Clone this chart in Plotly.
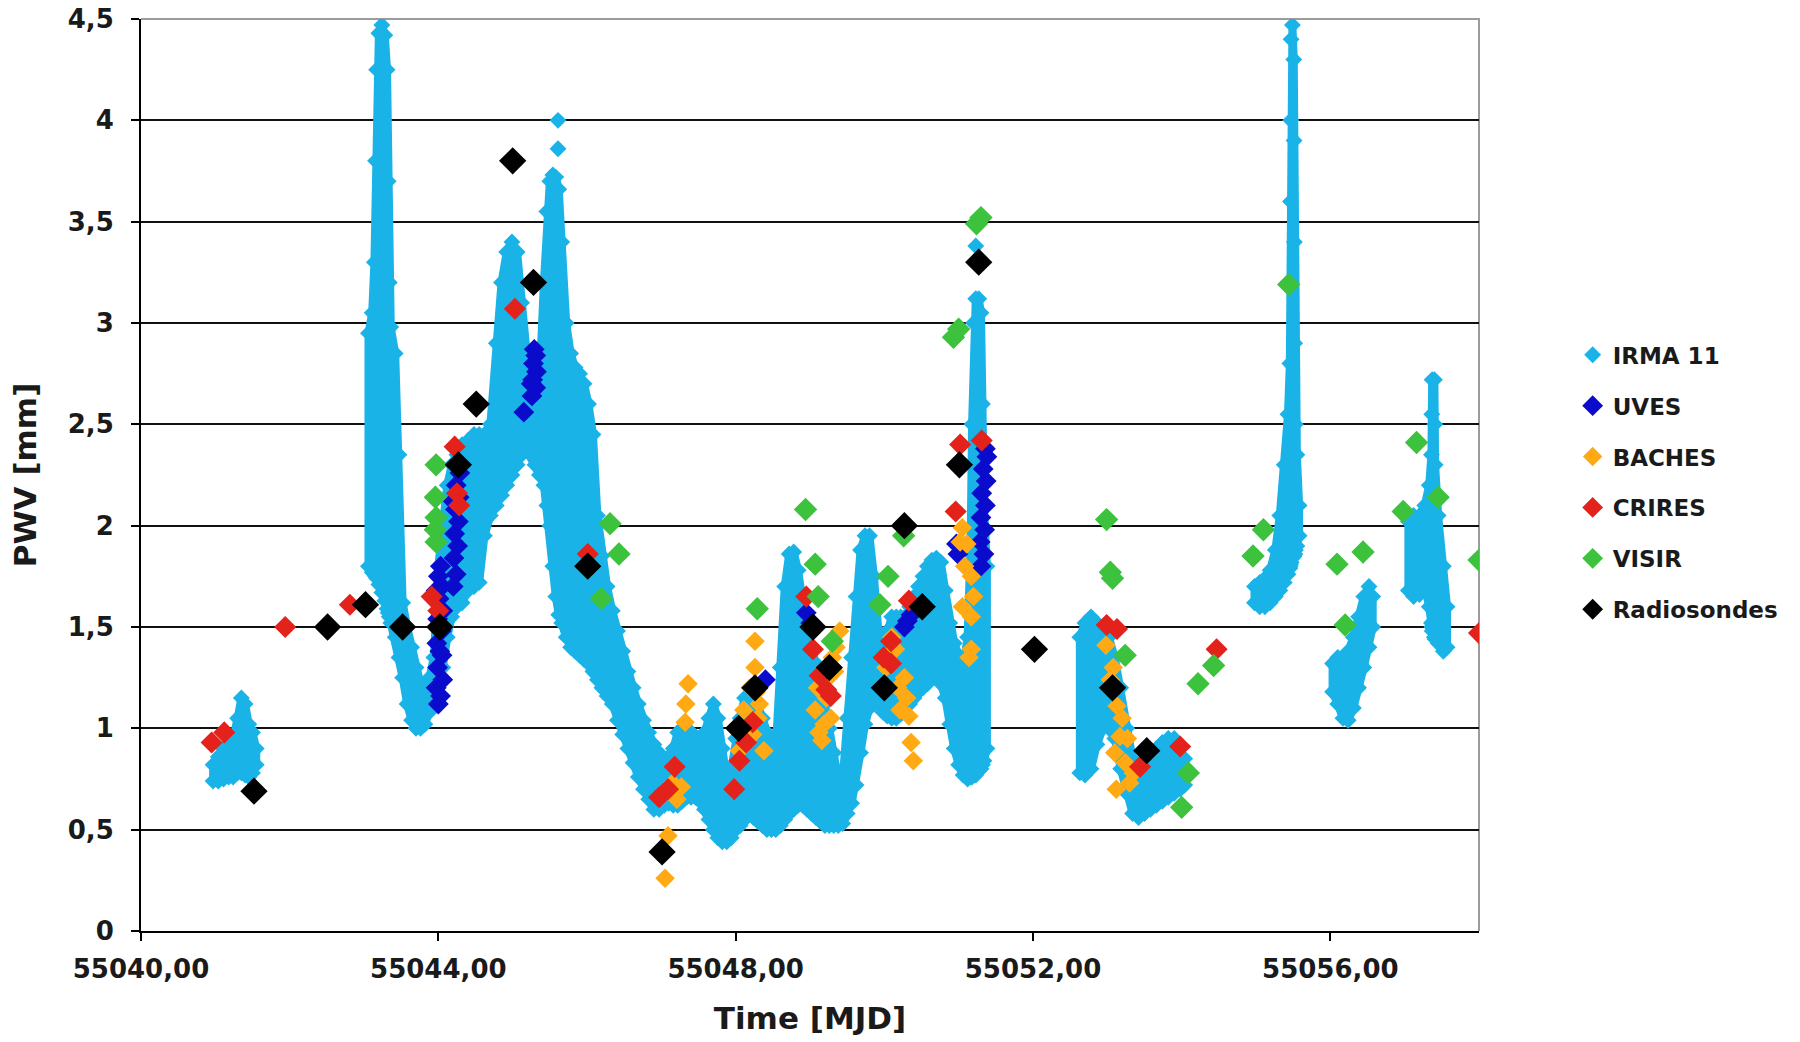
import plotly.graph_objects as go

# ---------------------------------------------------------------------------
# IRMA 11 radiometer: PWV band (lower / upper envelope) per time step.
# None separates the individual observing runs.
# ---------------------------------------------------------------------------
IRMA_T = [
    55040.97, 55041.04, 55041.11, 55041.18, 55041.24, 55041.30, 55041.35, 55041.40, 55041.45, 55041.50, 55041.55,
    None,
    55043.06, 55043.11, 55043.14, 55043.155, 55043.17, 55043.20, 55043.24, 55043.28, 55043.31, 55043.325,
    55043.34, 55043.36, 55043.42, 55043.47,
    55043.52, 55043.58, 55043.64, 55043.70, 55043.76, 55043.82, 55043.88, 55043.94,
    55044.00, 55044.06, 55044.12, 55044.18, 55044.25, 55044.32, 55044.40, 55044.48, 55044.55, 55044.62,
    55044.70, 55044.78, 55044.85, 55044.92, 55044.99, 55045.06, 55045.12, 55045.18, 55045.24, 55045.30,
    55045.36, 55045.42, 55045.46, 55045.50, 55045.54, 55045.58, 55045.62, 55045.66, 55045.72, 55045.78,
    55045.84, 55045.90, 55045.96, 55046.02, 55046.08, 55046.14, 55046.20, 55046.27, 55046.34, 55046.41,
    55046.48, 55046.55, 55046.62, 55046.69, 55046.76, 55046.83, 55046.90, 55046.97, 55047.04, 55047.10,
    55047.16, 55047.22, 55047.28, 55047.34, 55047.40, 55047.46, 55047.52, 55047.58, 55047.64, 55047.70,
    55047.76, 55047.82, 55047.88, 55047.94, 55048.00, 55048.06, 55048.12, 55048.18, 55048.24, 55048.30,
    55048.36, 55048.42, 55048.48, 55048.54, 55048.60, 55048.66, 55048.72, 55048.78, 55048.84, 55048.90,
    55048.96, 55049.02, 55049.08, 55049.14, 55049.20, 55049.26, 55049.32, 55049.38, 55049.44, 55049.50,
    55049.56, 55049.62, 55049.68, 55049.74, 55049.80, 55049.86, 55049.92, 55049.98, 55050.04, 55050.10,
    55050.16, 55050.22, 55050.28, 55050.34, 55050.40, 55050.46, 55050.52, 55050.58, 55050.64, 55050.70,
    55050.76, 55050.82, 55050.88, 55050.94, 55051.00, 55051.06, 55051.12, 55051.16, 55051.18, 55051.20,
    55051.23, 55051.27, 55051.30, 55051.32, 55051.34, 55051.38,
    None,
    55052.63, 55052.70, 55052.78, 55052.86, 55052.94, 55053.02, 55053.10, 55053.18, 55053.26, 55053.34,
    55053.42, 55053.50, 55053.58, 55053.66, 55053.74, 55053.82, 55053.90, 55053.98, 55054.04,
    None,
    55054.98, 55055.05, 55055.12, 55055.19, 55055.26, 55055.32, 55055.38, 55055.43, 55055.455, 55055.46,
    55055.464, 55055.468, 55055.472, 55055.49, 55055.508, 55055.512, 55055.516, 55055.52, 55055.53, 55055.55,
    55055.58,
    None,
    55056.03, 55056.10, 55056.17, 55056.24, 55056.31, 55056.38, 55056.45, 55056.52, 55056.57,
    None,
    55057.05, 55057.12, 55057.20, 55057.27, 55057.33, 55057.36, 55057.365, 55057.37, 55057.40, 55057.405,
    55057.41, 55057.45, 55057.52, 55057.57,
]
IRMA_LO = [
    0.74, 0.74, 0.75, 0.76, 0.76, 0.78, 0.78, 0.77, 0.76, 0.78, 0.82,
    None,
    1.80, 1.77, 1.76, 1.75, 1.74, 1.71, 1.67, 1.63, 1.59, 1.57,
    1.55, 1.52, 1.45, 1.35,
    1.25, 1.12, 1.04, 1.00, 1.00, 1.02, 1.08, 1.15,
    1.20, 1.30, 1.45, 1.55, 1.60, 1.62, 1.68, 1.70, 1.72, 1.95,
    2.05, 2.10, 2.15, 2.20, 2.25, 2.30, 2.35, 2.38, 2.35, 2.30,
    2.25, 2.20, 2.10, 2.00, 1.80, 1.65, 1.56, 1.52, 1.45, 1.40,
    1.38, 1.36, 1.34, 1.32, 1.28, 1.24, 1.20, 1.16, 1.12, 1.04,
    0.97, 0.90, 0.83, 0.76, 0.70, 0.65, 0.60, 0.60, 0.62, 0.63,
    0.62, 0.62, 0.64, 0.66, 0.66, 0.66, 0.64, 0.60, 0.55, 0.50,
    0.46, 0.44, 0.44, 0.46, 0.50, 0.52, 0.55, 0.58, 0.56, 0.54,
    0.52, 0.50, 0.50, 0.50, 0.52, 0.55, 0.58, 0.60, 0.62, 0.62,
    0.60, 0.58, 0.56, 0.54, 0.52, 0.52, 0.52, 0.52, 0.53, 0.58,
    0.63, 0.72, 0.88, 1.02, 1.10, 1.12, 1.12, 1.08, 1.06, 1.05,
    1.05, 1.07, 1.10, 1.12, 1.15, 1.18, 1.20, 1.22, 1.25, 1.25,
    1.22, 1.15, 1.02, 0.90, 0.82, 0.77, 0.75, 0.76, 0.76, 0.77,
    0.77, 0.79, 0.80, 0.82, 0.84, 0.90,
    None,
    0.78, 0.77, 0.80, 0.92, 1.00, 1.00, 0.95, 0.80, 0.68, 0.58,
    0.56, 0.58, 0.60, 0.62, 0.64, 0.66, 0.68, 0.70, 0.72,
    None,
    1.62, 1.60, 1.60, 1.62, 1.65, 1.68, 1.72, 1.76, 1.79, 1.80,
    1.81, 1.82, 1.82, 1.84, 1.85, 1.85, 1.86, 1.86, 1.88, 1.90,
    1.95,
    None,
    1.18, 1.12, 1.05, 1.04, 1.10, 1.20, 1.30, 1.40, 1.50,
    None,
    1.68, 1.65, 1.66, 1.70, 1.60, 1.52, 1.50, 1.48, 1.45, 1.45,
    1.44, 1.42, 1.38, 1.40,
]
IRMA_HI = [
    0.82, 0.86, 0.90, 0.92, 0.95, 1.05, 1.15, 1.12, 1.02, 0.98, 0.90,
    None,
    2.95, 3.05, 3.30, 3.80, 4.25, 4.43, 4.47, 4.42, 4.25, 3.70,
    3.20, 2.98, 2.85, 2.35,
    1.62, 1.50, 1.40, 1.30, 1.22, 1.20, 1.25, 1.35,
    1.80, 2.00, 2.20, 2.30, 2.35, 2.40, 2.42, 2.45, 2.45, 2.45,
    2.50, 2.90, 3.20, 3.35, 3.40, 3.35, 3.10, 2.80, 2.65, 2.60,
    2.70, 3.20, 3.55, 3.70, 3.73, 3.72, 3.66, 3.40, 3.00, 2.85,
    2.78, 2.75, 2.70, 2.60, 2.45, 2.05, 1.85, 1.70, 1.58, 1.48,
    1.38, 1.28, 1.20, 1.12, 1.04, 0.98, 0.92, 0.88, 0.84, 0.86,
    0.90, 0.98, 1.00, 1.00, 0.98, 0.96, 0.95, 0.98, 1.05, 1.12,
    1.05, 0.90, 0.75, 0.80, 0.95, 1.05, 1.15, 1.20, 1.18, 1.12,
    1.05, 0.98, 0.92, 0.90, 1.30, 1.70, 1.86, 1.87, 1.78, 1.62,
    1.48, 1.40, 1.32, 1.22, 1.12, 1.00, 0.88, 0.75, 0.75, 1.05,
    1.35, 1.65, 1.88, 1.95, 1.95, 1.75, 1.48, 1.40, 1.48, 1.55,
    1.55, 1.55, 1.55, 1.60, 1.65, 1.70, 1.75, 1.80, 1.83, 1.84,
    1.82, 1.68, 1.52, 1.42, 1.36, 1.30, 1.45, 1.90, 2.50, 3.00,
    3.12, 3.12, 3.05, 2.60, 2.10, 1.80,
    None,
    1.45, 1.52, 1.55, 1.52, 1.48, 1.45, 1.35, 1.20, 1.00, 0.85,
    0.80, 0.80, 0.85, 0.90, 0.93, 0.95, 0.95, 0.90, 0.85,
    None,
    1.70, 1.72, 1.74, 1.78, 1.88, 2.05, 2.30, 2.55, 2.80, 3.20,
    3.60, 4.00, 4.40, 4.47, 4.30, 3.90, 3.40, 2.90, 2.50, 2.35,
    2.10,
    None,
    1.32, 1.35, 1.35, 1.38, 1.45, 1.55, 1.65, 1.70, 1.65,
    None,
    2.02, 2.05, 2.05, 2.10, 2.20, 2.35, 2.55, 2.72, 2.72, 2.50,
    2.30, 2.05, 1.80, 1.60,
]
# isolated IRMA readings above the band
IRMA_SPARSE_T = [55045.61, 55045.61, 55051.23]
IRMA_SPARSE_V = [4.00, 3.86, 3.38]

# UVES
UVES_T = [55043.97, 55044.03, 55044.06, 55043.99, 55044.05, 55043.98, 55044.04, 55043.99, 55044.06,
          55044.01, 55044.05, 55044.00, 55044.03, 55043.97, 55044.02, 55044.00,
          55044.20, 55044.24, 55044.21, 55044.26, 55044.22, 55044.27, 55044.23, 55044.28, 55044.24,
          55044.29, 55044.25, 55044.20,
          55045.15, 55045.26, 55045.31, 55045.27, 55045.32, 55045.28, 55045.31, 55045.29, 55045.25,
          55048.40, 55048.95, 55049.01, 55050.27, 55050.31, 55050.36,
          55050.97, 55050.99, 55051.30, 55051.34, 55051.29, 55051.35, 55051.30, 55051.36, 55051.31,
          55051.37, 55051.33, 55051.38, 55051.36]
UVES_V = [1.20, 1.16, 1.24, 1.30, 1.36, 1.42, 1.48, 1.54, 1.58,
          1.64, 1.70, 1.75, 1.80, 1.68, 1.38, 1.12,
          1.70, 1.76, 1.84, 1.90, 1.96, 2.02, 2.08, 2.14, 2.20,
          2.26, 2.30, 2.12,
          2.56, 2.64, 2.68, 2.72, 2.76, 2.80, 2.84, 2.87, 2.70,
          1.24, 1.57, 1.52, 1.50, 1.53, 1.56,
          1.91, 1.86, 1.80, 1.86, 1.92, 1.98, 2.04, 2.10, 2.16,
          2.22, 2.28, 2.34, 2.38]

# BACHES
BACHES_T = [55047.05, 55047.09, 55047.15, 55047.21, 55047.27, 55047.32, 55047.33, 55047.36,
            55048.05, 55048.11, 55048.20, 55048.23, 55048.26, 55048.26, 55048.30, 55048.32, 55048.38,
            55048.16, 55048.28,
            55049.07, 55049.12, 55049.16, 55049.19, 55049.22, 55049.25, 55049.28, 55049.30, 55049.35, 55049.40,
            55049.10, 55049.33,
            55050.02, 55050.10, 55050.15, 55050.18, 55050.21, 55050.27, 55050.33, 55050.36, 55050.39,
            55050.06, 55050.30,
            55051.02, 55051.05, 55051.08, 55051.11, 55051.17, 55051.05, 55051.20, 55051.17, 55051.17, 55051.14,
            55052.98, 55053.04, 55053.08, 55053.10, 55053.12, 55053.13, 55053.17, 55053.20, 55053.24, 55053.27,
            55053.30, 55053.35]
BACHES_V = [0.26, 0.47, 0.73, 0.65, 0.71, 1.03, 1.12, 1.22,
            0.89, 1.09, 1.20, 0.97, 1.30, 1.43, 1.05, 1.12, 0.89,
            1.00, 1.18,
            1.09, 0.98, 0.94, 1.02, 1.15, 1.25, 1.05, 1.35, 1.40, 1.48,
            1.20, 1.28,
            1.30, 1.45, 1.39, 1.20, 1.09, 1.25, 1.06, 0.93, 0.84,
            1.36, 1.15,
            1.92, 1.99, 1.80, 1.91, 1.75, 1.60, 1.65, 1.55, 1.39, 1.35,
            1.41, 1.24, 1.30, 0.88, 0.70, 1.11, 0.96, 1.05, 0.83, 0.95,
            0.73, 0.78]

# CRIRES
CRIRES_T = [55040.95, 55041.12, 55041.94, 55042.81, 55043.91, 55044.00, 55044.22, 55044.25, 55044.28,
            55045.03, 55046.01, 55046.97, 55047.09, 55047.18, 55047.98, 55048.05, 55048.14, 55048.23,
            55048.95, 55049.04, 55049.13, 55049.22, 55049.28, 55049.99, 55050.09, 55050.09, 55050.33,
            55050.96, 55051.02, 55051.31, 55052.99, 55053.13, 55053.44, 55053.98, 55054.47, 55058.00]
CRIRES_V = [0.93, 0.98, 1.50, 1.61, 1.65, 1.58, 2.39, 2.16, 2.10,
            3.07, 1.86, 0.66, 0.70, 0.81, 0.70, 0.84, 0.93, 1.03,
            1.65, 1.39, 1.26, 1.19, 1.16, 1.35, 1.43, 1.32, 1.63,
            2.07, 2.40, 2.42, 1.51, 1.49, 0.81, 0.91, 1.39, 1.47]

# VISIR
VISIR_T = [55043.97, 55043.96, 55043.97, 55043.96, 55043.97, 55046.19, 55046.31, 55046.43, 55048.29,
           55048.94, 55049.07, 55049.11, 55049.30, 55049.94, 55050.05, 55050.26, 55050.93, 55051.00,
           55051.24, 55051.30, 55052.99, 55053.04, 55053.07, 55053.24, 55054.00, 55054.09, 55054.22,
           55054.43, 55054.96, 55055.10, 55055.44, 55056.09, 55056.20, 55056.44, 55056.98, 55057.16,
           55057.45, 55058.00]
VISIR_V = [2.30, 2.14, 2.04, 1.98, 1.92, 1.64, 2.01, 1.86, 1.59,
           2.08, 1.81, 1.65, 1.43, 1.61, 1.75, 1.95, 2.93, 2.97,
           3.49, 3.52, 2.03, 1.77, 1.74, 1.36, 0.61, 0.78, 1.22,
           1.31, 1.85, 1.98, 3.19, 1.81, 1.51, 1.87, 2.07, 2.41,
           2.14, 1.83]

# Radiosondes
RADIO_T = [55041.52, 55042.51, 55043.02, 55043.52, 55044.02, 55044.27, 55044.51, 55045.00, 55045.28,
           55046.01, 55047.01, 55048.04, 55048.26, 55049.04, 55049.26, 55050.00, 55050.27, 55050.51,
           55051.01, 55051.27, 55052.02, 55053.07, 55053.53]
RADIO_V = [0.69, 1.50, 1.61, 1.50, 1.50, 2.30, 2.60, 3.80, 3.20,
           1.80, 0.39, 1.00, 1.20, 1.50, 1.30, 1.20, 2.00, 1.60,
           2.30, 3.30, 1.39, 1.20, 0.89]

# Axis ticks
X_TICKS = [55040, 55044, 55048, 55052, 55056]
X_LABELS = ["55040,00", "55044,00", "55048,00", "55052,00", "55056,00"]
Y_TICKS = [0, 0.5, 1, 1.5, 2, 2.5, 3, 3.5, 4, 4.5]
Y_LABELS = ["0", "0,5", "1", "1,5", "2", "2,5", "3", "3,5", "4", "4,5"]

CYAN = "#1AB3E8"
FONT = "DejaVu Sans"
TEXT = "#1a1a1a"


def runs(t, lo, hi):
    """Split the None-separated envelope lists into observing runs."""
    out, cur = [], ([], [], [])
    for a, b, c in zip(t, lo, hi):
        if a is None:
            if cur[0]:
                out.append(cur)
            cur = ([], [], [])
        else:
            cur[0].append(a)
            cur[1].append(b)
            cur[2].append(c)
    if cur[0]:
        out.append(cur)
    return out


fig = go.Figure()

# IRMA band: filled envelope per run, diamonds along its edges
edge_x, edge_y = [], []
for ts, los, his in runs(IRMA_T, IRMA_LO, IRMA_HI):
    xs = ts + ts[::-1] + [ts[0]]
    ys = his + los[::-1] + [his[0]]
    fig.add_trace(go.Scatter(
        x=xs, y=ys, mode="lines", fill="toself", fillcolor=CYAN,
        line=dict(color=CYAN, width=8), showlegend=False,
        legendgroup="irma", hoverinfo="skip"))
    edge_x += ts + ts
    edge_y += his + los
edge_x += IRMA_SPARSE_T
edge_y += IRMA_SPARSE_V

fig.add_trace(go.Scatter(
    x=edge_x, y=edge_y, mode="markers", name="IRMA 11", legendgroup="irma",
    marker=dict(symbol="diamond", size=13, color=CYAN)))

series = [
    ("UVES", UVES_T, UVES_V, "#0B0BCC", 16),
    ("BACHES", BACHES_T, BACHES_V, "#FFAA14", 15),
    ("CRIRES", CRIRES_T, CRIRES_V, "#E2221B", 17),
    ("VISIR", VISIR_T, VISIR_V, "#3CC23C", 18),
    ("Radiosondes", RADIO_T, RADIO_V, "#000000", 21),
]
for name, xs, ys, color, size in series:
    fig.add_trace(go.Scatter(
        x=xs, y=ys, mode="markers", name=name, legendgroup=name,
        marker=dict(symbol="diamond", size=size, color=color, line=dict(width=0))))

axis_title_font = dict(family=FONT, size=31, color=TEXT, weight="bold")
tick_font = dict(family=FONT, size=26, color=TEXT, weight="bold")

fig.update_layout(
    width=1800, height=1042,
    margin=dict(l=141, r=321, t=19, b=111, autoexpand=False),
    paper_bgcolor="white", plot_bgcolor="white",
    font=dict(family=FONT, color=TEXT),
    showlegend=True,
    legend=dict(
        x=1.07, y=0.492, xanchor="left", yanchor="middle",
        font=dict(family=FONT, size=23, color=TEXT, weight="bold"),
        tracegroupgap=18, itemsizing="trace", bgcolor="rgba(0,0,0,0)",
    ),
    xaxis=dict(
        range=[55040, 55058], tickvals=X_TICKS, ticktext=X_LABELS,
        showgrid=False, zeroline=False,
        showline=True, linecolor="black", linewidth=2,
        ticks="outside", ticklen=8, tickwidth=2, tickcolor="black",
        tickfont=tick_font, ticklabelstandoff=6,
        title=dict(text="Time [MJD]", font=axis_title_font, standoff=24),
    ),
    yaxis=dict(
        range=[0, 4.5], tickvals=Y_TICKS, ticktext=Y_LABELS,
        showgrid=True, gridcolor="#111111", gridwidth=2, zeroline=False,
        showline=True, linecolor="black", linewidth=2,
        ticks="outside", ticklen=8, tickwidth=2, tickcolor="black",
        tickfont=tick_font, ticklabelstandoff=12,
        title=dict(text="PWV [mm]", font=axis_title_font, standoff=22),
    ),
    shapes=[dict(
        type="path", xref="paper", yref="paper", path="M 0,1 L 1,1 L 1,0",
        line=dict(color="#9c9c9c", width=2), layer="between",
    )],
)

fig.write_html("out.html")
